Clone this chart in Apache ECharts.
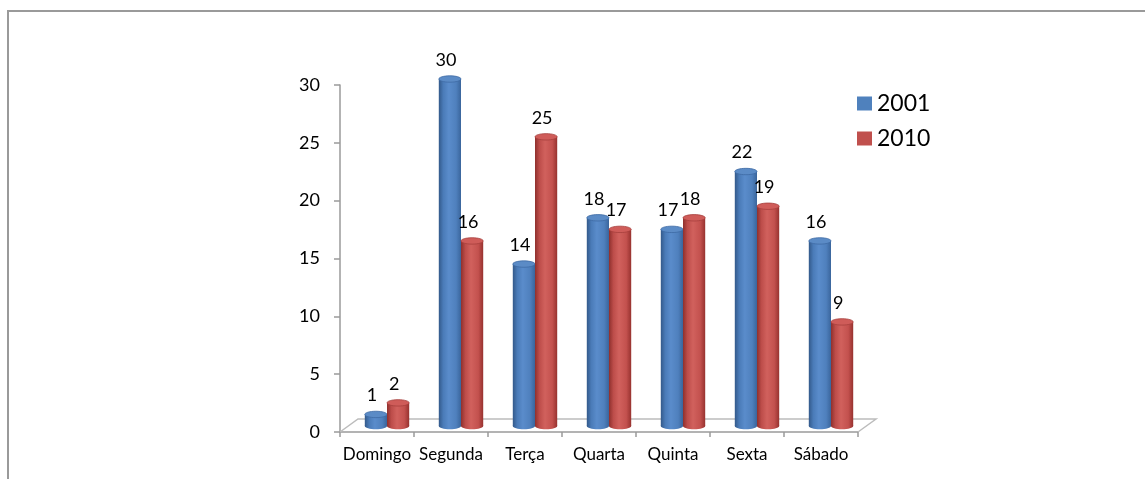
<!DOCTYPE html>
<html>
<head>
<meta charset="utf-8">
<script src="https://cdn.jsdelivr.net/npm/echarts@6/dist/echarts.min.js"></script>
<style>
  html, body { margin: 0; padding: 0; background: #fff; overflow: hidden; width: 1145px; height: 479px; }
  #frame {
    position: absolute; left: 7px; top: 10px; width: 1136px; height: 467px;
    border-top: 2px solid #9a9a9a; border-left: 2px solid #9a9a9a;
  }
  #chart { position: absolute; left: 0; top: 0; width: 1145px; height: 479px; }
</style>
</head>
<body>
<div id="frame"></div>
<div id="chart"></div>
<script>
// Days of the week and the counts for each year
const days = ['Domingo', 'Segunda', 'Terça', 'Quarta', 'Quinta', 'Sexta', 'Sábado'];
const values2001 = [1, 30, 14, 18, 17, 22, 16];
const values2010 = [2, 16, 25, 17, 18, 19, 9];
const seriesNames = ['2001', '2010'];

const FONT = 'Lato, "Noto Sans", sans-serif';

// Cylinder shading per series: dark rim, bright band, dark rim
const palettes = [
  { base: '#4f81bd', body: ['#33598a', '#4a7bb8', '#5a8ccb', '#4f80bd', '#3a659c'], top: '#5b8bc6', rim: '#3e6aa3' },
  { base: '#c0504d', body: ['#8f302d', '#bd4d4a', '#d1615d', '#c3514e', '#97322f'], top: '#cf5c59', rim: '#a63f3c' }
];

function cylinder(seriesIdx) {
  return function (params, api) {
    const i = api.value(0);
    const v = api.value(1);
    const band = api.size([1, 0])[0];
    const w = band * 0.3;
    const base = api.coord([i, 0]);
    const top = api.coord([i, v]);
    const cx = base[0] + (seriesIdx === 0 ? -w / 2 : w / 2);
    const x0 = cx - w / 2;
    const ry = 3.2;
    const p = palettes[seriesIdx];
    const grad = new echarts.graphic.LinearGradient(0, 0, 1, 0, [
      { offset: 0, color: p.body[0] },
      { offset: 0.2, color: p.body[1] },
      { offset: 0.45, color: p.body[2] },
      { offset: 0.78, color: p.body[3] },
      { offset: 1, color: p.body[4] }
    ]);
    return {
      type: 'group',
      children: [
        { type: 'ellipse', shape: { cx: cx, cy: base[1], rx: w / 2, ry: ry }, style: { fill: grad } },
        { type: 'rect', shape: { x: x0, y: top[1], width: w, height: base[1] - top[1] }, style: { fill: grad } },
        { type: 'ellipse', shape: { cx: cx, cy: top[1], rx: w / 2, ry: ry }, style: { fill: p.top, stroke: p.rim, lineWidth: 0.8 } },
        {
          type: 'text',
          style: {
            text: String(v), x: cx - 4, y: top[1] - 10,
            align: 'center', verticalAlign: 'bottom',
            font: '18px ' + FONT, fill: '#000'
          }
        }
      ]
    };
  };
}

// Floor of the plot area, drawn from the category axis extent
function floor(params, api) {
  const band = api.size([1, 0])[0];
  const first = api.coord([0, 0]);
  const last = api.coord([days.length - 1, 0]);
  const l = first[0] - band / 2, r = last[0] + band / 2, y = first[1];
  const dx = 18, dy = 13;
  return {
    type: 'polyline',
    shape: { points: [[l, y], [l + dx, y - dy], [r + dx, y - dy], [r, y]] },
    style: { stroke: '#bcbcbc', lineWidth: 1.5, fill: null }
  };
}

const chart = echarts.init(document.getElementById('chart'));
chart.setOption({
  animation: false,
  backgroundColor: 'transparent',
  legend: {
    orient: 'vertical', left: 852, top: 87, itemGap: 12,
    itemWidth: 15, itemHeight: 14, icon: 'rect',
    textStyle: { fontSize: 23, fontFamily: FONT, color: '#000', padding: [0, 0, 0, 0] },
    data: seriesNames
  },
  grid: [
    { left: 340, right: 287, top: 85, bottom: 47 },
    { left: 350, right: 277, top: 79, bottom: 53 }
  ],
  xAxis: [
    {
      type: 'category', gridIndex: 0, data: days,
      axisLine: { lineStyle: { color: '#9a9a9a', width: 1.5 } },
      axisTick: { show: true, alignWithLabel: false, length: 5, lineStyle: { color: '#9a9a9a', width: 1.5 } },
      axisLabel: { interval: 0, hideOverlap: false, fontSize: 17, fontFamily: FONT, color: '#000', margin: 14 }
    },
    { type: 'category', gridIndex: 1, data: days, show: false }
  ],
  yAxis: [
    {
      type: 'value', gridIndex: 0, min: 0, max: 30, interval: 5,
      axisLine: { show: true, lineStyle: { color: '#9a9a9a', width: 1.5 } },
      axisTick: { show: true, length: 6, lineStyle: { color: '#9a9a9a', width: 1.5 } },
      splitLine: { show: false },
      axisLabel: { fontSize: 18, fontFamily: FONT, color: '#000', margin: 20 }
    },
    { type: 'value', gridIndex: 1, min: 0, max: 30, show: false }
  ],
  series: [
    {
      type: 'custom', name: 'floor', xAxisIndex: 0, yAxisIndex: 0, z: 1,
      data: [[0, 0]], renderItem: floor, silent: true
    },
    {
      type: 'custom', name: seriesNames[0], xAxisIndex: 1, yAxisIndex: 1, z: 3,
      itemStyle: { color: palettes[0].base },
      data: values2001.map((v, i) => [i, v]),
      renderItem: cylinder(0)
    },
    {
      type: 'custom', name: seriesNames[1], xAxisIndex: 1, yAxisIndex: 1, z: 3,
      itemStyle: { color: palettes[1].base },
      data: values2010.map((v, i) => [i, v]),
      renderItem: cylinder(1)
    }
  ]
});
</script>
</body>
</html>
